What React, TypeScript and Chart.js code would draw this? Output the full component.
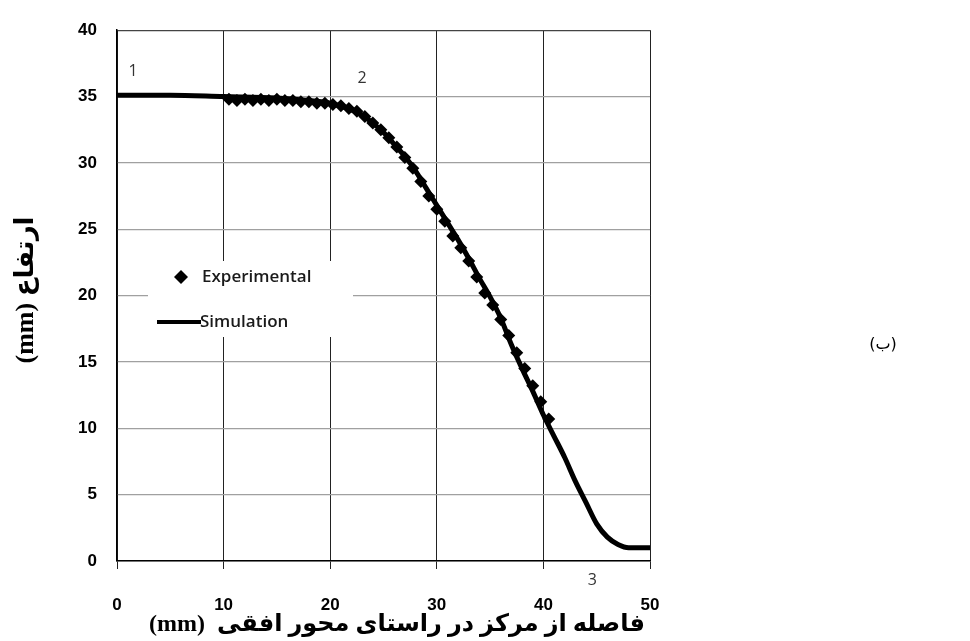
import React, { useEffect, useRef } from "react";
import { Chart, registerables } from "chart.js";

Chart.register(...registerables);

const simX = [0, 5, 10, 15, 18, 20, 22, 23, 24, 25, 26, 27, 28, 29, 30, 31, 32, 33, 34, 35, 36, 37, 38, 39, 40, 41, 42, 43, 44, 45, 46, 47, 48, 49, 50];
const simY = [35.1, 35.1, 35.0, 34.9, 34.7, 34.5, 34.0, 33.6, 33.0, 32.3, 31.4, 30.5, 29.4, 28.1, 26.8, 25.5, 24.2, 22.8, 21.3, 19.9, 18.3, 16.3, 14.5, 12.8, 11.0, 9.4, 7.8, 6.0, 4.4, 2.8, 1.8, 1.25, 1.0, 1.0, 1.0];

const expX = [10.5, 11.25, 12, 12.75, 13.5, 14.25, 15, 15.75, 16.5, 17.25, 18, 18.75, 19.5, 20.25, 21, 21.75, 22.5, 23.25, 24, 24.75, 25.5, 26.25, 27, 27.75, 28.5, 29.25, 30, 30.75, 31.5, 32.25, 33, 33.75, 34.5, 35.25, 36, 36.75, 37.5, 38.25, 39, 39.75, 40.5];
const expY = [34.8, 34.7, 34.8, 34.7, 34.8, 34.7, 34.8, 34.7, 34.7, 34.6, 34.6, 34.5, 34.5, 34.4, 34.3, 34.1, 33.9, 33.5, 33.0, 32.5, 31.9, 31.2, 30.4, 29.6, 28.6, 27.5, 26.5, 25.6, 24.5, 23.6, 22.6, 21.4, 20.2, 19.3, 18.2, 17.0, 15.7, 14.5, 13.2, 12.0, 10.7];

const xTicks = [0, 10, 20, 30, 40, 50];
const yTicks = [0, 5, 10, 15, 20, 25, 30, 35, 40];

const seriesNames = ["Experimental", "Simulation"];
const pointLabels = [
  { text: "1", x: 1.5, y: 36.9 },
  { text: "2", x: 23.0, y: 36.4 },
  { text: "3", x: 44.6, y: -1.5 },
];
const xTitle = "(mm)  فاصله از مرکز در راستای محور افقی";
const yTitle = "(mm) ارتفاع";
const sideLabel = "(ب)";

const overlay = {
  id: "overlay",
  afterDraw(chart: any) {
    const ctx = chart.ctx;
    const xs = chart.scales.x;
    const ys = chart.scales.y;
    ctx.save();
    // legend
    ctx.fillStyle = "#ffffff";
    ctx.fillRect(148, 261, 205, 76);
    ctx.fillStyle = "#000";
    ctx.beginPath();
    ctx.moveTo(181, 270);
    ctx.lineTo(188, 277);
    ctx.lineTo(181, 284);
    ctx.lineTo(174, 277);
    ctx.closePath();
    ctx.fill();
    ctx.strokeStyle = "#000";
    ctx.lineWidth = 4;
    ctx.beginPath();
    ctx.moveTo(157, 322);
    ctx.lineTo(201, 322);
    ctx.stroke();
    ctx.font = "600 17px 'Open Sans'";
    ctx.fillStyle = "#1a1a1a";
    ctx.textBaseline = "middle";
    ctx.textAlign = "left";
    ctx.fillText(seriesNames[0], 202, 277);
    ctx.fillText(seriesNames[1], 200, 322);

    // point labels
    ctx.font = "16px 'Open Sans'";
    ctx.fillStyle = "#333";
    ctx.textAlign = "center";
    for (const p of pointLabels) {
      ctx.fillText(p.text, xs.getPixelForValue(p.x), ys.getPixelForValue(p.y));
    }

    // x title
    ctx.fillStyle = "#000";
    ctx.font = "bold 24px 'Liberation Serif', 'DejaVu Sans'";
    ctx.textAlign = "center";
    ctx.fillText(xTitle, 397, 625);

    // y title
    ctx.save();
    ctx.translate(26, 290);
    ctx.rotate(-Math.PI / 2);
    ctx.font = "bold 26px 'Liberation Serif', 'DejaVu Sans'";
    ctx.fillText(yTitle, 0, 0);
    ctx.restore();

    // side label
    ctx.font = "16px 'DejaVu Sans'";
    ctx.fillText(sideLabel, 883, 345);
    ctx.restore();
  },
};

export default function App() {
  const ref = useRef<HTMLCanvasElement>(null);
  useEffect(() => {
    if (!ref.current) return;
    const chart = new Chart(ref.current, {
      type: "scatter",
      data: {
        datasets: [
          {
            label: seriesNames[0],
            data: expX.map((x, i) => ({ x, y: expY[i] })),
            pointStyle: "rectRot",
            pointRadius: 6.5,
            backgroundColor: "#000",
            borderColor: "#000",
            borderWidth: 0,
            showLine: false,
          },
          {
            label: seriesNames[1],
            data: simX.map((x, i) => ({ x, y: simY[i] })),
            showLine: true,
            pointRadius: 0,
            borderColor: "#000",
            borderWidth: 5,
            cubicInterpolationMode: "monotone",
          },
        ],
      },
      options: {
        responsive: false,
        animation: false,
        devicePixelRatio: 1,
        layout: { padding: { top: 25, right: 320, left: 0, bottom: 0 } },
        plugins: { legend: { display: false }, tooltip: { enabled: false } },
        scales: {
          x: {
            type: "linear",
            min: 0,
            max: 50,
            afterFit: (s: any) => {
              s.height = 80;
            },
            afterBuildTicks: (s: any) => {
              s.ticks = xTicks.map((v) => ({ value: v }));
            },
            grid: { color: "#222", lineWidth: 1, drawTicks: true, tickLength: 8, tickColor: "#222" },
            border: { color: "#000", width: 1.5 },
            ticks: {
              padding: 26,
              color: "#000",
              font: { family: "'Liberation Sans'", weight: "bold", size: 17 },
            },
          },
          y: {
            type: "linear",
            min: 0,
            max: 40,
            afterFit: (s: any) => {
              s.width = 117;
            },
            afterBuildTicks: (s: any) => {
              s.ticks = yTicks.map((v) => ({ value: v }));
            },
            grid: {
              color: (c: any) => (c.tick && c.tick.value === 40 ? "#444" : "#a0a0a0"),
              lineWidth: 1.3,
              drawTicks: false,
            },
            border: { color: "#000", width: 1.5 },
            ticks: {
              padding: 20,
              color: "#000",
              font: { family: "'Liberation Sans'", weight: "bold", size: 17 },
            },
          },
        },
      },
      plugins: [overlay],
    });
    return () => chart.destroy();
  }, []);
  return (
    <div style={{ position: "fixed", left: 0, top: 0, width: 970, height: 641, background: "#fff" }}>
      <canvas ref={ref} width={970} height={641} style={{ width: 970, height: 641, display: "block" }} />
    </div>
  );
}
